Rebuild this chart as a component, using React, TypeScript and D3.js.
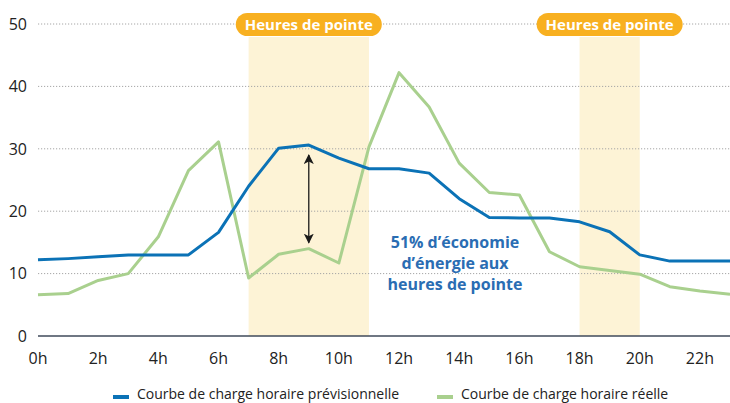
import React, { useEffect, useRef } from 'react';
import * as d3 from 'd3';

// hours of the day, 0..23
const hours = d3.range(0, 24);
const xTickLabels = ['0h', '2h', '4h', '6h', '8h', '10h', '12h', '14h', '16h', '18h', '20h', '22h'];
const yTicks = [0, 10, 20, 30, 40, 50];

// forecast hourly load curve (blue)
const forecast = [12.2, 12.4, 12.7, 13.0, 13.0, 13.0, 16.6, 24.0, 30.1, 30.6, 28.5, 26.8,
  26.8, 26.1, 22.0, 19.0, 18.9, 18.9, 18.3, 16.7, 13.0, 12.0, 12.0, 12.0];
// actual hourly load curve (green)
const actual = [6.6, 6.8, 8.9, 10.0, 15.9, 26.5, 31.1, 9.3, 13.1, 14.0, 11.7, 30.3,
  42.2, 36.7, 27.7, 23.0, 22.6, 13.5, 11.1, 10.5, 9.9, 7.9, 7.2, 6.7];

// peak hour windows [start, end]
const peaks = [[7, 11], [18, 20]];
const peakLabel = 'Heures de pointe';
const noteLines = ['51% d\u2019économie', 'd\u2019énergie aux', 'heures de pointe'];
const legendItems = [
  { label: 'Courbe de charge horaire prévisionnelle', color: '#0b72b6' },
  { label: 'Courbe de charge horaire réelle', color: '#a9d08e' },
];

const App = () => {
  const ref = useRef<HTMLDivElement>(null);

  useEffect(() => {
    const width = 730;
    const height = 403;
    const font = '"Open Sans", sans-serif';

    const x = d3.scaleLinear().domain([0, 23]).range([38, 730]);
    const y = d3.scaleLinear().domain([0, 50]).range([336, 24]);

    const svg = d3.create('svg')
      .attr('width', width)
      .attr('height', height)
      .style('display', 'block')
      .style('font-family', font);

    svg.append('rect').attr('width', width).attr('height', height).attr('fill', '#fff');

    // peak bands
    svg.selectAll('rect.band')
      .data(peaks)
      .enter()
      .append('rect')
      .attr('class', 'band')
      .attr('x', (d) => x(d[0]))
      .attr('width', (d) => x(d[1]) - x(d[0]))
      .attr('y', 37)
      .attr('height', y(0) - 37)
      .attr('fill', '#fdf3d6');

    // dotted gridlines
    svg.selectAll('line.grid')
      .data(yTicks.filter((t) => t > 0))
      .enter()
      .append('line')
      .attr('x1', x(0))
      .attr('x2', width)
      .attr('y1', (d) => y(d))
      .attr('y2', (d) => y(d))
      .attr('stroke', '#a6a6a6')
      .attr('stroke-width', 1)
      .attr('stroke-dasharray', '1.2,1.8');

    // y tick labels
    svg.selectAll('text.ytick')
      .data(yTicks)
      .enter()
      .append('text')
      .attr('x', 27)
      .attr('y', (d) => y(d))
      .attr('dy', '0.36em')
      .attr('text-anchor', 'end')
      .attr('font-size', 16)
      .attr('fill', '#222')
      .text((d) => d);

    // x tick labels
    svg.selectAll('text.xtick')
      .data(xTickLabels)
      .enter()
      .append('text')
      .attr('x', (d, i) => x(i * 2))
      .attr('y', 364)
      .attr('text-anchor', 'middle')
      .attr('font-size', 16)
      .attr('fill', '#222')
      .text((d) => d);

    // baseline
    svg.append('line')
      .attr('x1', x(0))
      .attr('x2', width)
      .attr('y1', y(0))
      .attr('y2', y(0))
      .attr('stroke', '#3f4a5a')
      .attr('stroke-width', 1.5);

    const line = d3.line<number>().x((d, i) => x(hours[i])).y((d) => y(d));

    svg.append('path')
      .attr('d', line(actual))
      .attr('fill', 'none')
      .attr('stroke', '#a9d08e')
      .attr('stroke-width', 3)
      .attr('stroke-linejoin', 'round');

    svg.append('path')
      .attr('d', line(forecast))
      .attr('fill', 'none')
      .attr('stroke', '#0b72b6')
      .attr('stroke-width', 3)
      .attr('stroke-linejoin', 'round');

    // double arrow between the two curves at 9h
    const defs = svg.append('defs');
    defs.append('marker')
      .attr('id', 'head')
      .attr('viewBox', '0 0 10 10')
      .attr('refX', 9)
      .attr('refY', 5)
      .attr('markerWidth', 10)
      .attr('markerHeight', 10)
      .attr('markerUnits', 'userSpaceOnUse')
      .attr('orient', 'auto-start-reverse')
      .append('path')
      .attr('d', 'M0,0L10,5L0,10L2.5,5Z')
      .attr('fill', '#1a1a1a');

    svg.append('line')
      .attr('x1', x(9))
      .attr('x2', x(9))
      .attr('y1', y(forecast[9]) + 10)
      .attr('y2', y(actual[9]) - 6)
      .attr('stroke', '#1a1a1a')
      .attr('stroke-width', 1.3)
      .attr('marker-start', 'url(#head)')
      .attr('marker-end', 'url(#head)');

    // annotation
    svg.append('text')
      .attr('x', 455)
      .attr('y', 247.5)
      .attr('text-anchor', 'middle')
      .attr('font-size', 16)
      .attr('font-weight', 700)
      .attr('fill', '#2a6db3')
      .selectAll('tspan')
      .data(noteLines)
      .enter()
      .append('tspan')
      .attr('x', 455)
      .attr('dy', (d, i) => (i === 0 ? 0 : 21))
      .text((d) => d);

    // peak hour pills
    const pill = svg.selectAll('g.pill')
      .data(peaks)
      .enter()
      .append('g')
      .attr('transform', (d) => `translate(${(x(d[0]) + x(d[1])) / 2},13)`);

    pill.append('rect')
      .attr('x', -73)
      .attr('width', 146)
      .attr('height', 23)
      .attr('rx', 11.5)
      .attr('fill', '#f8b020');

    pill.append('text')
      .attr('y', 17)
      .attr('text-anchor', 'middle')
      .attr('font-size', 15)
      .attr('font-weight', 700)
      .attr('fill', '#fff')
      .text(peakLabel);

    // legend
    const legendX = [113, 437];
    const leg = svg.selectAll('g.legend')
      .data(legendItems)
      .enter()
      .append('g')
      .attr('transform', (d, i) => `translate(${legendX[i]},396)`);

    leg.append('line')
      .attr('x1', 0)
      .attr('x2', 16)
      .attr('y1', 1)
      .attr('y2', 1)
      .attr('stroke', (d) => d.color)
      .attr('stroke-width', 4);

    leg.append('text')
      .attr('x', 24)
      .attr('y', 3)
      .attr('font-size', 14)
      .attr('fill', '#222')
      .text((d) => d.label);

    const node = svg.node();
    if (ref.current && node) {
      ref.current.innerHTML = '';
      ref.current.appendChild(node);
    }
  }, []);

  return <div ref={ref} style={{ position: 'absolute', left: 0, top: 0 }}></div>;
};

export default App;
